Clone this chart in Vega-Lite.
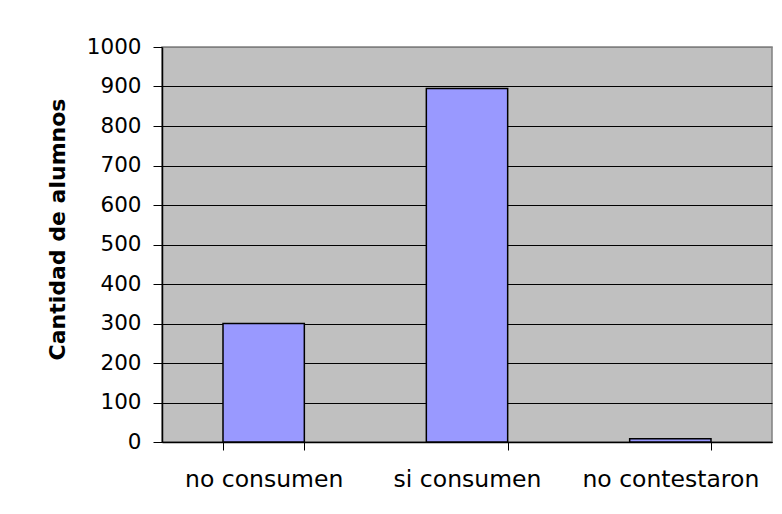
{
  "$schema": "https://vega.github.io/schema/vega-lite/v6.json",
  "width": 610,
  "height": 395,
  "autosize": {"type": "none"},
  "padding": {"left": 162, "top": 47, "right": 10, "bottom": 72},
  "background": "white",
  "data": {
    "values": [
      {"categoria": "no consumen", "alumnos": 300},
      {"categoria": "si consumen", "alumnos": 895},
      {"categoria": "no contestaron", "alumnos": 8}
    ]
  },
  "mark": {"type": "bar", "fill": "#9999FF", "stroke": "#000000", "strokeWidth": 1.5},
  "encoding": {
    "x": {
      "field": "categoria",
      "type": "nominal",
      "sort": null,
      "scale": {"paddingInner": 0.6, "paddingOuter": 0.3},
      "axis": {
        "title": null,
        "labelAngle": 0,
        "labelFont": "DejaVu Sans",
        "labelFontSize": 23.5,
        "labelColor": "#000000",
        "labelPadding": 17,
        "tickBand": "extent",
        "tickSize": 8,
        "tickColor": "#000000",
        "domainColor": "#000000",
        "domainWidth": 1.5,
        "grid": false
      }
    },
    "y": {
      "field": "alumnos",
      "type": "quantitative",
      "scale": {"domain": [0, 1000], "nice": false},
      "axis": {
        "values": [0, 100, 200, 300, 400, 500, 600, 700, 800, 900, 1000],
        "format": "d",
        "title": "Cantidad de alumnos",
        "titleFont": "DejaVu Sans",
        "titleFontSize": 22,
        "titleFontWeight": "bold",
        "titleColor": "#000000",
        "titlePadding": 17,
        "titleY": 182,
        "labelFont": "DejaVu Sans",
        "labelFontSize": 21.5,
        "labelColor": "#000000",
        "labelPadding": 12,
        "tickSize": 9,
        "tickColor": "#000000",
        "domainColor": "#000000",
        "domainWidth": 1.5,
        "grid": true,
        "gridColor": {"condition": {"test": "datum.value == 1000", "value": "#808080"}, "value": "#000000"},
        "gridOpacity": 1,
        "gridWidth": 1
      }
    }
  },
  "config": {
    "view": {"stroke": "#808080", "strokeWidth": 1.5, "fill": "#C0C0C0"}
  }
}
